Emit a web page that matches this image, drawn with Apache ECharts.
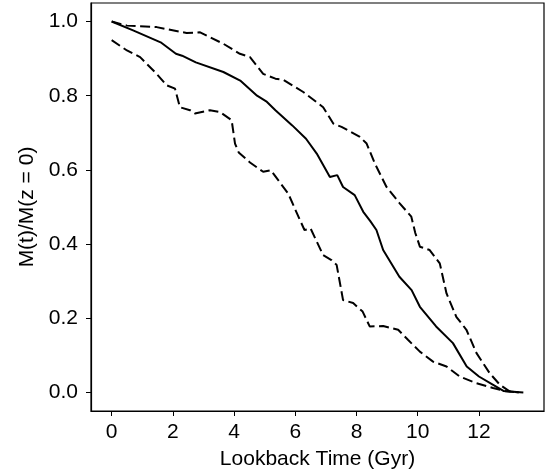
<!DOCTYPE html>
<html>
<head>
<meta charset="utf-8">
<script src="https://cdn.jsdelivr.net/npm/echarts@6/dist/echarts.min.js"></script>
<style>
  html, body { margin: 0; padding: 0; background: #fff; }
  #chart { width: 550px; height: 476px; }
</style>
</head>
<body>
<div id="chart"></div>
<script>
// median mass growth history
const medianX = [0, 0.7, 1.6, 2.1, 2.3, 2.75, 3.65, 4.2, 4.75, 5.05, 5.35, 5.9, 6.35, 6.7, 7.13, 7.37, 7.56, 7.94, 8.22, 8.45, 8.65, 8.87, 9.4, 9.8, 10.07, 10.6, 11.15, 11.6, 12.0, 12.45, 12.8, 13.45];
const medianY = [1.0, 0.976, 0.944, 0.913, 0.908, 0.89, 0.864, 0.841, 0.80, 0.785, 0.761, 0.72, 0.684, 0.644, 0.581, 0.586, 0.554, 0.532, 0.487, 0.462, 0.438, 0.384, 0.312, 0.276, 0.231, 0.178, 0.133, 0.07, 0.043, 0.021, 0.004, 0.0];

// upper bound (dashed)
const upperX = [0, 0.5, 1.47, 2.45, 2.89, 3.65, 4.19, 4.52, 4.95, 5.35, 5.61, 6.26, 6.91, 7.24, 7.51, 8.11, 8.33, 8.6, 8.98, 9.41, 9.79, 9.92, 10.07, 10.39, 10.72, 10.94, 11.26, 11.59, 11.92, 12.35, 12.68, 13.0, 13.3];
const upperY = [1.0, 0.989, 0.985, 0.969, 0.971, 0.94, 0.913, 0.904, 0.859, 0.846, 0.843, 0.81, 0.769, 0.725, 0.716, 0.689, 0.671, 0.617, 0.554, 0.51, 0.474, 0.43, 0.393, 0.384, 0.348, 0.267, 0.204, 0.169, 0.106, 0.052, 0.021, 0.003, 0.0];

// lower bound (dashed)
const lowerX = [0, 0.5, 0.93, 1.47, 1.8, 2.07, 2.23, 2.56, 2.72, 3.21, 3.54, 3.92, 4.03, 4.15, 4.52, 4.95, 5.2, 5.77, 6.15, 6.3, 6.5, 6.91, 7.18, 7.35, 7.56, 7.89, 8.2, 8.43, 8.87, 9.36, 9.68, 10.07, 10.5, 10.94, 11.37, 11.92, 12.46, 12.89, 13.3];
const lowerY = [0.95, 0.922, 0.904, 0.859, 0.828, 0.819, 0.769, 0.761, 0.752, 0.761, 0.756, 0.734, 0.671, 0.647, 0.62, 0.595, 0.599, 0.536, 0.465, 0.438, 0.442, 0.37, 0.357, 0.344, 0.249, 0.241, 0.218, 0.178, 0.179, 0.169, 0.142, 0.11, 0.083, 0.07, 0.043, 0.025, 0.012, 0.003, 0.0];

const xTicks = [0, 2, 4, 6, 8, 10, 12];
const yTicks = [0, 0.2, 0.4, 0.6, 0.8, 1.0];

const font = "'Liberation Sans', Arial, sans-serif";
const pairs = (xs, ys) => xs.map((x, i) => [x, ys[i]]);

const chart = echarts.init(document.getElementById('chart'));

const lineSeries = (xs, ys, dashed) => ({
  type: 'line',
  data: pairs(xs, ys),
  symbol: 'none',
  smooth: false,
  silent: true,
  lineStyle: {
    color: '#000',
    width: 2,
    type: dashed ? [10, 4.5] : 'solid'
  }
});

chart.setOption({
  animation: false,
  backgroundColor: '#fff',
  grid: {
    left: 91,
    right: 6,
    top: 3,
    bottom: 65,
    show: true,
    borderColor: '#000',
    borderWidth: 1.2
  },
  xAxis: {
    type: 'value',
    min: -0.675,
    max: 14.125,
    name: 'Lookback Time (Gyr)',
    nameLocation: 'middle',
    nameGap: 38,
    nameTextStyle: { color: '#000', fontSize: 21, fontFamily: font },
    axisLine: { show: true, onZero: false, lineStyle: { color: '#000', width: 1.2 } },
    axisTick: { show: true, length: 5, customValues: xTicks, lineStyle: { color: '#000' } },
    axisLabel: { customValues: xTicks, color: '#000', fontSize: 21, fontFamily: font, margin: 11 },
    splitLine: { show: false }
  },
  yAxis: {
    type: 'value',
    min: -0.05,
    max: 1.05,
    name: 'M(t)/M(z = 0)',
    nameLocation: 'middle',
    nameGap: 50,
    nameTextStyle: { color: '#000', fontSize: 21, fontFamily: font },
    axisLine: { show: true, onZero: false, lineStyle: { color: '#000', width: 1.2 } },
    axisTick: { show: true, length: 5, customValues: yTicks, lineStyle: { color: '#000' } },
    axisLabel: {
      customValues: yTicks,
      color: '#000',
      fontSize: 21,
      fontFamily: font,
      margin: 13,
      formatter: v => v.toFixed(1)
    },
    splitLine: { show: false }
  },
  series: [
    lineSeries(upperX, upperY, true),
    lineSeries(lowerX, lowerY, true),
    lineSeries(medianX, medianY, false)
  ]
});
</script>
</body>
</html>
